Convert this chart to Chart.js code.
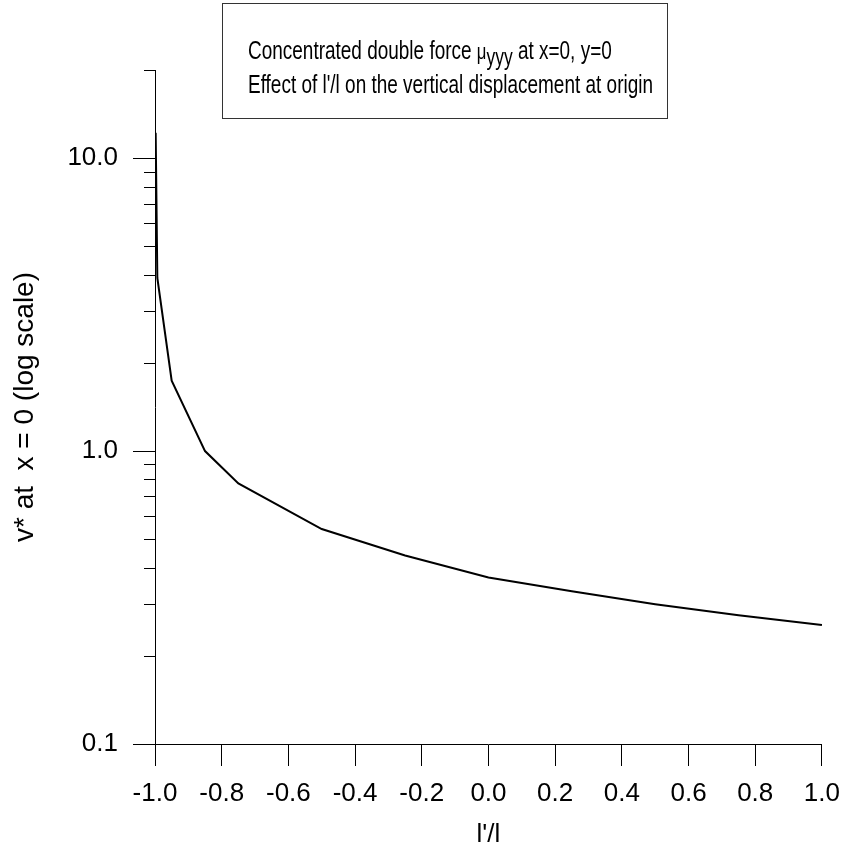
<!DOCTYPE html>
<html>
<head>
<meta charset="utf-8">
<script src="https://cdn.jsdelivr.net/npm/chart.js@4.4.1/dist/chart.umd.min.js"></script>
<style>
  html, body { margin: 0; padding: 0; background: #ffffff; }
  #wrap { width: 852px; height: 854px; }
</style>
</head>
<body>
<div id="wrap"><canvas id="c" width="852" height="854"></canvas></div>
<script>
// ---- data ----
const ratioValues = [-0.998, -0.993, -0.95, -0.85, -0.75, -0.5, -0.25, 0.0, 0.25, 0.5, 0.75, 1.0];
const displacementValues = [12.2, 3.9, 1.74, 1.0, 0.776, 0.542, 0.44, 0.37, 0.332, 0.30, 0.275, 0.255];
const yTickValues = [0.1,0.2,0.3,0.4,0.5,0.6,0.7,0.8,0.9,1,2,3,4,5,6,7,8,9,10,20];
const xTickStep = 0.2;
const boxLine1a = 'Concentrated double force ';
const boxLine1mu = 'μ';
const boxLine1sub = 'yyy';
const boxLine1b = ' at x=0, y=0';
const boxLine2 = "Effect of l'/l on the vertical displacement at origin";
const xTitle = "l'/l";
const yTitle = 'v* at  x = 0 (log scale)';

const FONT = '"Liberation Sans", Arial, Helvetica, sans-serif';

function isDecade(v) {
  const l = Math.log10(v);
  return Math.abs(l - Math.round(l)) < 1e-9;
}

const annotationPlugin = {
  id: 'annot',
  afterDraw(chart) {
    const ctx = chart.ctx;
    const ys = chart.scales.y;
    // minor y ticks
    ctx.save();
    ctx.strokeStyle = '#000';
    ctx.lineWidth = 1;
    const xAxis = ys.right;
    ys.ticks.forEach(t => {
      if (!isDecade(t.value)) {
        const py = Math.round(ys.getPixelForValue(t.value)) + 0.5;
        ctx.beginPath();
        ctx.moveTo(xAxis - 11, py);
        ctx.lineTo(xAxis, py);
        ctx.stroke();
      }
    });
    ctx.restore();

    // text box
    const bx = 222, by = 3, bw = 445, bh = 115;
    ctx.save();
    ctx.strokeStyle = '#333';
    ctx.lineWidth = 1;
    ctx.strokeRect(bx + 0.5, by + 0.5, bw, bh);
    ctx.fillStyle = '#000';
    ctx.textBaseline = 'alphabetic';
    ctx.font = '25px ' + FONT;
    const natural2 = ctx.measureText(boxLine2).width;
    const sx = 405 / natural2;
    const tx = bx + 26;
    // line 1
    ctx.save();
    ctx.translate(tx, by + 56);
    ctx.scale(sx, 1);
    let cx = 0;
    ctx.font = '25px ' + FONT;
    ctx.fillText(boxLine1a, cx, 0); cx += ctx.measureText(boxLine1a).width;
    ctx.font = '22px ' + FONT;
    ctx.fillText(boxLine1mu, cx, 0); cx += ctx.measureText(boxLine1mu).width;
    ctx.font = '23px ' + FONT;
    ctx.fillText(boxLine1sub, cx, 6); cx += ctx.measureText(boxLine1sub).width;
    ctx.font = '25px ' + FONT;
    ctx.fillText(boxLine1b, cx, 0);
    ctx.restore();
    // line 2
    ctx.save();
    ctx.translate(tx, by + 90);
    ctx.scale(sx, 1);
    ctx.font = '25px ' + FONT;
    ctx.fillText(boxLine2, 0, 0);
    ctx.restore();
    ctx.restore();
  }
};

new Chart(document.getElementById('c'), {
  type: 'line',
  data: {
    datasets: [{
      data: ratioValues.map((x, i) => ({ x: x, y: displacementValues[i] })),
      borderColor: '#000',
      borderWidth: 2,
      pointRadius: 0,
      tension: 0,
      fill: false
    }]
  },
  options: {
    responsive: false,
    animation: false,
    devicePixelRatio: 1,
    layout: { padding: { top: 70, right: 23, left: 0, bottom: 0 } },
    plugins: { legend: { display: false }, tooltip: { enabled: false } },
    scales: {
      x: {
        type: 'linear',
        min: -1, max: 1,
        afterFit(s) { s.height = 110; },
        border: { display: true, color: '#000', width: 1 },
        grid: { display: true, drawOnChartArea: false, drawTicks: true, tickLength: 22, color: '#000', tickColor: '#000' },
        ticks: {
          stepSize: xTickStep,
          padding: 12,
          color: '#000',
          font: { family: FONT, size: 26 },
          maxRotation: 0,
          autoSkip: false,
          callback: v => (Math.abs(v) < 1e-9 ? 0 : v).toFixed(1)
        },
        title: { display: true, text: xTitle, color: '#000', font: { family: FONT, size: 26 }, padding: { top: 0, bottom: 4 } }
      },
      y: {
        type: 'logarithmic',
        min: 0.1, max: 20,
        afterFit(s) { s.width = 155; },
        afterBuildTicks(s) { s.ticks = yTickValues.map(v => ({ value: v, major: isDecade(v) })); },
        border: { display: true, color: '#000', width: 1 },
        grid: {
          display: true, drawOnChartArea: false, drawTicks: true, tickLength: 22,
          color: '#000',
          tickColor: c => (c.tick && isDecade(c.tick.value)) ? '#000' : 'rgba(0,0,0,0)'
        },
        ticks: {
          padding: 15,
          color: '#000',
          font: { family: FONT, size: 26 },
          autoSkip: false,
          callback: v => isDecade(v) ? Number(v).toFixed(1) : ''
        },
        title: { display: true, text: yTitle, color: '#000', font: { family: FONT, size: 28 }, padding: { top: 8, bottom: 0 } }
      }
    }
  },
  plugins: [annotationPlugin]
});
</script>
</body>
</html>
